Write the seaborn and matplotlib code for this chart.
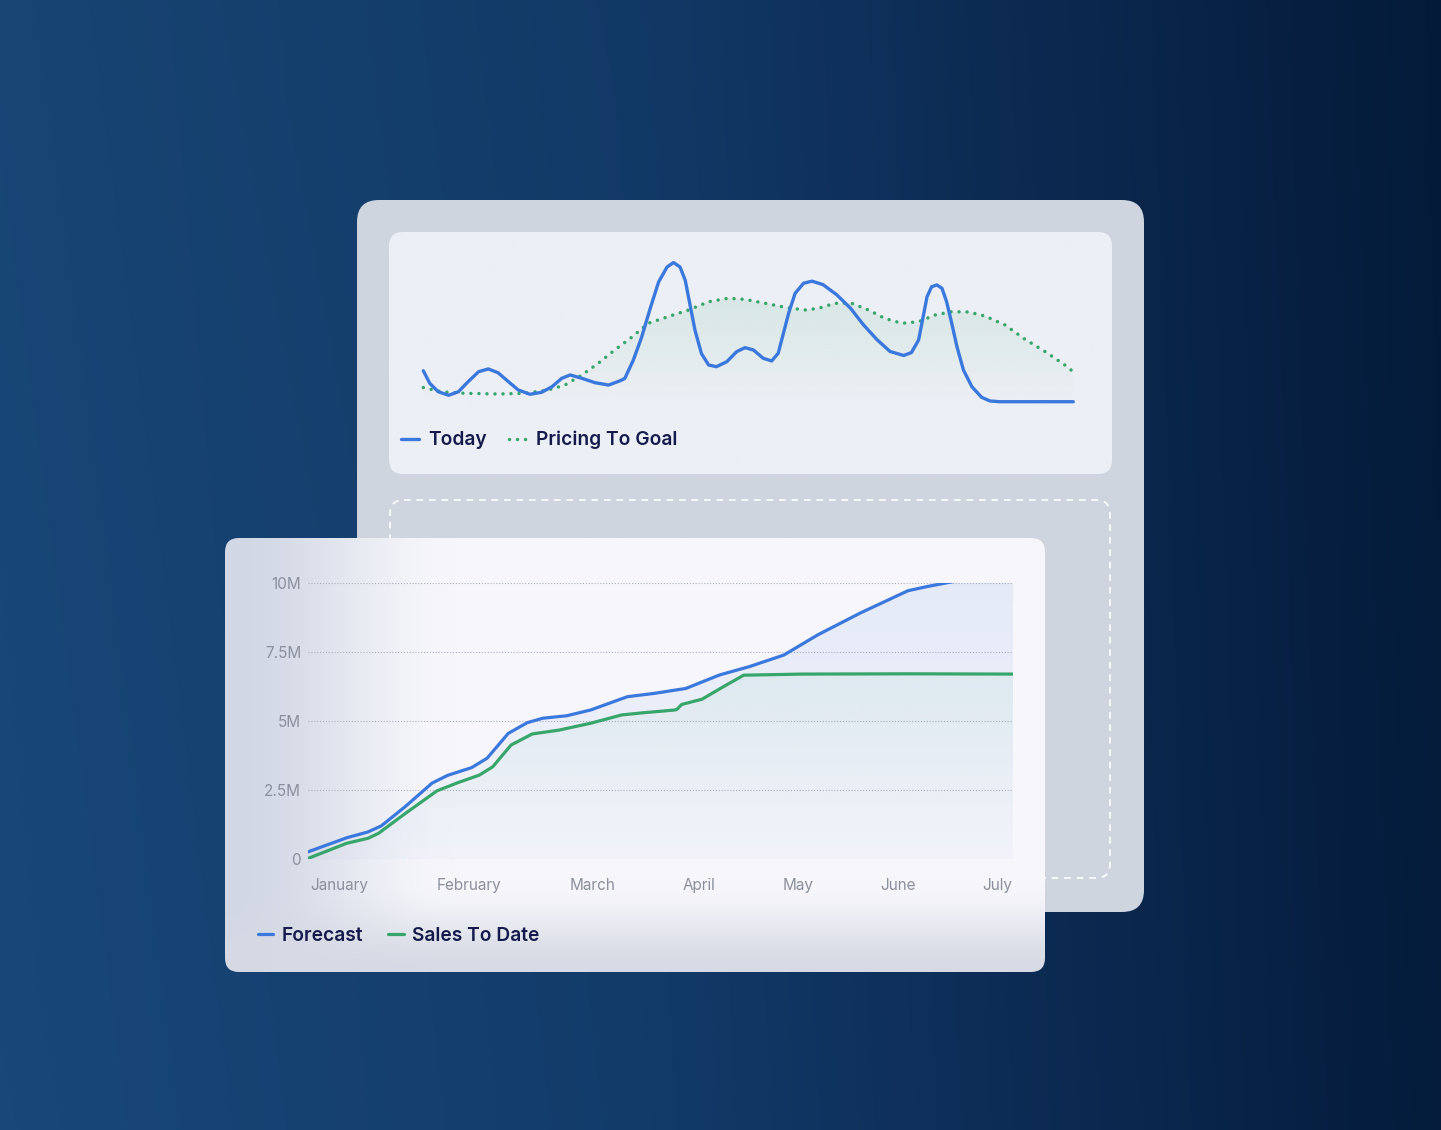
import matplotlib
matplotlib.use("Agg")
import matplotlib.pyplot as plt
import numpy as np
import seaborn as sns
from matplotlib.colors import to_rgb
from matplotlib.patches import FancyBboxPatch

W, H = 1441, 1130

# --- top card: "Today" vs "Pricing To Goal" (relative index, 0..100) ---
today_x = [0, 1.0, 2.3, 3.9, 5.4, 6.9, 8.5, 10.0, 11.5, 13.1, 14.6, 16.4, 18.2,
           19.8, 21.3, 22.6, 24.4, 26.4, 28.5, 30.3, 31.0, 32.3, 33.6, 34.9,
           36.2, 37.5, 38.5, 39.5, 40.3, 41.0, 41.8, 42.8, 43.9, 45.1, 46.7,
           48.2, 49.5, 50.8, 52.3, 53.6, 54.6, 55.4, 56.2, 57.2, 58.5, 59.8,
           61.5, 63.6, 65.7, 67.7, 69.8, 71.8, 73.9, 75.1, 76.2, 76.9, 77.5,
           78.2, 79.0, 79.8, 80.5, 81.3, 82.1, 83.1, 84.4, 85.9, 87.2, 88.7,
           100]
today_y = [22.1, 13.1, 7.1, 4.6, 7.1, 14.3, 21.4, 23.4, 20.7, 14.3, 8.4, 5.3,
           6.7, 10.7, 16.7, 19.1, 16.7, 13.6, 11.9, 15.0, 16.6, 29.6, 46.2,
           66.5, 85.5, 96.2, 99.4, 96.2, 86.7, 70.0, 51.0, 34.3, 26.2, 25.0,
           28.6, 35.7, 38.6, 36.9, 31.0, 29.1, 34.6, 48.8, 63.1, 77.4, 84.6,
           86.1, 83.6, 76.4, 66.9, 55.0, 44.3, 35.9, 33.0, 35.1, 44.1, 60.7,
           75.0, 82.1, 83.4, 81.0, 71.5, 56.0, 39.3, 22.6, 10.7, 3.1, 0.5, 0,
           0]
goal_x = [0, 2.8, 6.4, 11.5, 15.7, 19.2, 21.8, 24.4, 26.9, 29.5, 32.1, 34.6,
          37.7, 40.8, 43.9, 46.9, 49.5, 52.6, 55.7, 58.7, 60.8, 63.3, 65.9,
          68.5, 71.0, 73.6, 76.2, 78.7, 81.3, 83.9, 86.4, 89.5, 92.6, 95.7,
          98.7, 100]
goal_y = [10.1, 7.1, 6.0, 5.5, 6.0, 8.4, 11.9, 19.1, 27.4, 37.1, 46.2, 56.0,
          60.8, 65.5, 71.4, 73.9, 73.1, 70.3, 67.4, 65.5, 66.7, 70.3, 70.3,
          65.5, 59.5, 56.0, 57.1, 61.9, 64.3, 64.1, 61.2, 54.8, 44.5, 35.7,
          26.2, 21.4]

# --- front card: cumulative sales (millions) over the season ---
forecast_x = [0, 5.5, 8.5, 10.4, 13.8, 17.6, 19.8, 23.2, 25.4, 28.4, 31.1,
              33.3, 36.7, 40.1, 45.3, 49.1, 53.6, 58.4, 62.6, 67.5, 72.3,
              78.4, 85.1, 87.8, 91.1, 100]
forecast_y = [0.26, 0.77, 0.98, 1.2, 1.9, 2.75, 3.03, 3.31, 3.65, 4.55, 4.94,
              5.1, 5.19, 5.40, 5.88, 6.0, 6.18, 6.67, 6.97, 7.39, 8.12, 8.92,
              9.72, 9.87, 10.03, 10.5]
sales_x = [0, 5.5, 8.5, 10.0, 13.8, 18.3, 21.3, 24.3, 26.2, 28.8, 31.8, 35.6,
           40.1, 44.5, 47.6, 52.1, 52.4, 53.0, 55.9, 58.9, 61.8, 70.1, 85.1, 100]
sales_y = [0.02, 0.57, 0.75, 0.93, 1.65, 2.47, 2.77, 3.04, 3.34, 4.13, 4.53,
           4.67, 4.92, 5.22, 5.30, 5.40, 5.44, 5.60, 5.79, 6.24, 6.66, 6.70,
           6.71, 6.70]
month_labels = ["January", "February", "March", "April", "May", "June", "July"]
month_pos = [4.5, 22.8, 40.3, 55.5, 69.5, 83.7, 97.7]
y_ticks = [0, 2.5, 5, 7.5, 10]
y_labels = ["0", "2.5M", "5M", "7.5M", "10M"]

BLUE = "#3b78dd"
GREEN = "#38a56a"
NAVY = "#141a4b"
GREY = "#8b909d"

sns.set_style("white")
plt.rcParams["font.family"] = ["Inter", "DejaVu Sans"]
LEGEND_FONT = {"family": ["Inter", "DejaVu Sans"], "weight": "semibold",
               "size": 13.8}


def px_axes(fig, x0, y0, x1, y1):
    # axes placed from pixel box (top-left origin)
    return fig.add_axes([x0 / W, 1 - y1 / H, (x1 - x0) / W, (y1 - y0) / H])


def gradient_card(ax, x0, y0, x1, y1, radius, rgb_img):
    box = FancyBboxPatch((x0, y0), x1 - x0, y1 - y0,
                         boxstyle=f"round,pad=0,rounding_size={radius}",
                         facecolor="none", edgecolor="none")
    ax.add_patch(box)
    im = ax.imshow(rgb_img, extent=(x0, x1, y1, y0), aspect="auto",
                   interpolation="bilinear", zorder=box.get_zorder())
    im.set_clip_path(box)
    return box


def gradient_fill(ax, x, y, color, a_top, a_bot, ytop, zorder=1):
    poly = ax.fill_between(x, y, 0, facecolor="none", edgecolor="none")
    img = np.zeros((200, 1, 4))
    img[:, 0, :3] = to_rgb(color)
    img[:, 0, 3] = np.linspace(a_top, a_bot, 200)
    im = ax.imshow(img, extent=(min(x), max(x), 0, ytop), aspect="auto",
                   origin="upper", zorder=zorder)
    im.set_clip_path(poly.get_paths()[0], transform=ax.transData)


def round_line(line):
    line.set_solid_joinstyle("round")
    line.set_solid_capstyle("round")


fig = plt.figure(figsize=(W / 100, H / 100), dpi=100)

# ---------- background + cards ----------
bg = fig.add_axes([0, 0, 1, 1])
bg.axis("off")
stops = [(0.0, "#184676"), (0.45, "#123a68"), (0.72, "#0c2a52"), (1.0, "#041b3a")]
t = np.linspace(0, 1, W)
cols = np.array([to_rgb(c) for _, c in stops])
pos = [p for p, _ in stops]
row = np.stack([np.interp(t, pos, cols[:, k]) for k in range(3)], axis=-1)
vert = np.linspace(0.98, 1.02, H)[:, None, None]
bg_img = np.clip(row[None, :, :] * vert, 0, 1)
bg.imshow(bg_img, extent=(0, W, H, 0), aspect="auto")

# back card
back = np.ones((50, 50, 3)) * np.array(to_rgb("#cfd5df"))
gradient_card(bg, 357, 200, 1144, 912, 22, back)
# top panel
tp = np.ones((50, 50, 3)) * np.array(to_rgb("#eceff5"))
gradient_card(bg, 389, 232, 1112, 474, 14, tp)
# dashed placeholder
bg.add_patch(FancyBboxPatch((390, 500), 720, 378,
                            boxstyle="round,pad=0,rounding_size=14",
                            facecolor="none", edgecolor="white", lw=1.2,
                            linestyle=(0, (4, 3.5))))

# front card with soft left / bottom shading
fw, fh = 820, 434
px = np.arange(fw)
py = np.arange(fh)
base = np.array(to_rgb("#f6f6fb"))
edge = np.array(to_rgb("#d1d7e4"))
bottom = np.array(to_rgb("#d7dae4"))
wl = np.where(px < 230, 0.5 * (1 + np.cos(np.pi * px / 230)), 0.0)
wb = np.clip((py - 345) / 89, 0, 1)
wb = wb * wb * (3 - 2 * wb)
img = base[None, None, :] * np.ones((fh, fw, 1))
img = img * (1 - wl[None, :, None]) + edge[None, None, :] * wl[None, :, None]
img = img * (1 - wb[:, None, None]) + bottom[None, None, :] * wb[:, None, None]
gradient_card(bg, 225, 538, 1045, 972, 14, img)

bg.set_xlim(0, W)
bg.set_ylim(H, 0)

# ---------- top chart ----------
ax1 = px_axes(fig, 423.3, 261.7, 1073.3, 401.7)
ax1.set_facecolor("none")
gradient_fill(ax1, goal_x, goal_y, "#4fb27a", 0.13, 0.0, 74)
sns.lineplot(x=goal_x, y=goal_y, ax=ax1, color=GREEN, lw=2.5,
             label="Pricing To Goal", zorder=3, clip_on=False,
             estimator=None)
ax1.lines[-1].set_linestyle((0, (0.01, 2.3)))
ax1.lines[-1].set_dash_capstyle("round")
sns.lineplot(x=today_x, y=today_y, ax=ax1, color=BLUE, lw=2.4, label="Today",
             zorder=4, clip_on=False, estimator=None)
round_line(ax1.lines[-1])
ax1.set_xlim(0, 100)
ax1.set_ylim(0, 100)
ax1.axis("off")
h, l = ax1.get_legend_handles_labels()
order = [l.index("Today"), l.index("Pricing To Goal")]
ax1.legend([h[i] for i in order], [l[i] for i in order], loc="center left",
           bbox_to_anchor=(401 / W, 1 - 440 / H), bbox_transform=fig.transFigure,
           ncol=2, frameon=False, borderpad=0, borderaxespad=0,
           handlelength=0.95, handletextpad=0.45, columnspacing=1.2,
           labelcolor=NAVY, prop=LEGEND_FONT)

# ---------- bottom chart ----------
ax2 = px_axes(fig, 308, 583, 1013, 859)
ax2.set_facecolor("none")
gradient_fill(ax2, forecast_x, forecast_y, BLUE, 0.10, 0.02, 10.5)
gradient_fill(ax2, sales_x, sales_y, "#4fb27a", 0.07, 0.0, 6.7)
sns.lineplot(x=forecast_x, y=forecast_y, ax=ax2, color=BLUE, lw=2.3,
             label="Forecast", zorder=4, estimator=None)
round_line(ax2.lines[-1])
sns.lineplot(x=sales_x, y=sales_y, ax=ax2, color=GREEN, lw=2.3,
             label="Sales To Date", zorder=3, estimator=None)
round_line(ax2.lines[-1])
ax2.set_xlim(0, 100)
ax2.set_ylim(0, 10)
for s in ax2.spines.values():
    s.set_visible(False)
ax2.set_yticks(y_ticks, y_labels)
ax2.set_xticks(month_pos, month_labels)
ax2.yaxis.grid(True, linestyle=(0, (1, 1.6)), color="#aab0bd", lw=0.8)
ax2.xaxis.grid(False)
ax2.set_axisbelow(True)
ax2.tick_params(axis="both", length=0, labelsize=11, labelcolor=GREY)
ax2.tick_params(axis="y", pad=5)
ax2.tick_params(axis="x", pad=13.5)
ax2.set_xlabel("")
ax2.set_ylabel("")
ax2.legend(loc="center left", bbox_to_anchor=(258 / W, 1 - 936 / H),
           bbox_transform=fig.transFigure, ncol=2, frameon=False,
           borderpad=0, borderaxespad=0, handlelength=0.8, handletextpad=0.45,
           columnspacing=1.3, labelcolor=NAVY, prop=LEGEND_FONT)

fig.savefig("out.png", dpi=100)
